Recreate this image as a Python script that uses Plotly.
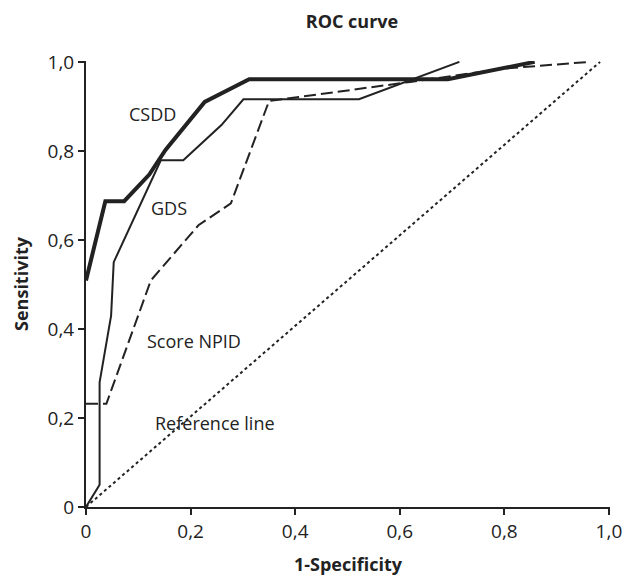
import plotly.graph_objects as go

# ROC curves (x = 1-Specificity, y = Sensitivity)
csdd_x = [0.0, 0.037, 0.073, 0.121, 0.152, 0.227, 0.312, 0.692, 0.858]
csdd_y = [0.509, 0.687, 0.687, 0.747, 0.802, 0.910, 0.961, 0.961, 1.0]

gds_x = [0.0, 0.026, 0.026, 0.048, 0.053, 0.143, 0.186, 0.221, 0.259, 0.301, 0.522, 0.714]
gds_y = [0.0, 0.050, 0.280, 0.430, 0.550, 0.779, 0.779, 0.817, 0.858, 0.916, 0.916, 1.0]

npid_x = [0.0, 0.039, 0.124, 0.215, 0.277, 0.350, 0.620, 0.800, 0.962]
npid_y = [0.232, 0.232, 0.509, 0.633, 0.682, 0.912, 0.955, 0.985, 1.0]

ref_x = [0.0, 0.983]
ref_y = [0.0, 1.0]

tick_vals = [0, 0.2, 0.4, 0.6, 0.8, 1.0]
tick_text = ["0", "0,2", "0,4", "0,6", "0,8", "1,0"]

labels = ["CSDD", "GDS", "Score NPID", "Reference line"]
label_x = [0.127, 0.158, 0.206, 0.246]
label_y = [0.882, 0.671, 0.372, 0.188]

FONT = "Open Sans"
W, H = 625, 579

fig = go.Figure()
fig.add_trace(go.Scatter(x=ref_x, y=ref_y, mode="lines",
                         line=dict(color="#222", width=2, dash="dot"), showlegend=False))
fig.add_trace(go.Scatter(x=npid_x, y=npid_y, mode="lines",
                         line=dict(color="#222", width=2, dash="12px,5px"), showlegend=False))
fig.add_trace(go.Scatter(x=gds_x, y=gds_y, mode="lines",
                         line=dict(color="#222", width=2), showlegend=False))
fig.add_trace(go.Scatter(x=csdd_x, y=csdd_y, mode="lines",
                         line=dict(color="#222", width=4), showlegend=False))

for t, x, y in zip(labels, label_x, label_y):
    fig.add_annotation(x=x, y=y, text=t, showarrow=False, xanchor="center", yanchor="middle",
                       font=dict(family=FONT, size=18, color="#222"))

fig.update_layout(
    width=W, height=H,
    margin=dict(l=86, r=15, t=61, b=72, autoexpand=False),
    paper_bgcolor="white", plot_bgcolor="white",
    title=dict(text="<b>ROC curve</b>", x=352 / W, xanchor="center", y=1 - 22 / H, yanchor="middle",
               font=dict(family=FONT, size=18, color="#222")),
    font=dict(family=FONT, size=18, color="#222"),
)
fig.update_xaxes(range=[0, 1.002], tickvals=tick_vals, ticktext=tick_text, automargin=False,
                 showline=True, linecolor="#222", linewidth=2, ticks="outside",
                 ticklen=6, tickwidth=2, tickcolor="#222", showgrid=False, zeroline=False,
                 ticklabeloverflow="allow",
                 title=dict(text="<b>1-Specificity</b>", font=dict(family=FONT, size=18), standoff=16),
                 tickfont=dict(family=FONT, size=19))
fig.update_yaxes(range=[0, 1.002], tickvals=tick_vals, ticktext=tick_text, automargin=False,
                 showline=True, linecolor="#222", linewidth=2, ticks="outside",
                 ticklen=6, tickwidth=2, tickcolor="#222", showgrid=False, zeroline=False,
                 title=dict(text="<b>Sensitivity</b>", font=dict(family=FONT, size=18), standoff=14),
                 tickfont=dict(family=FONT, size=19))

fig.write_html(
    "out.html",
    config={"displayModeBar": False},
    post_script=(
        "document.body.style.margin='0';"
        "document.body.style.overflow='hidden';"
        "document.documentElement.style.overflow='hidden';"
    ),
)
